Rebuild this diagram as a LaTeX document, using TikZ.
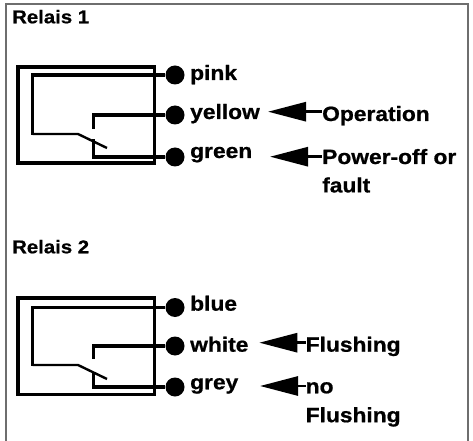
\documentclass[tikz,border=0pt]{standalone}
\usepackage{fontspec}
\setmainfont{Liberation Sans}[UprightFeatures={FakeStretch=1.1},BoldFeatures={FakeStretch=1.1,FakeBold=0.8}]
\usetikzlibrary{arrows.meta}
\begin{document}
\begin{tikzpicture}[x=1bp,y=-1bp,
  frame/.style={line width=1.3bp, draw={rgb,255:red,110;green,110;blue,110}},
  wire/.style={line width=3.4bp, line join=miter},
  sw/.style={line width=2.4bp},
  dot/.style={circle, fill=black, inner sep=0pt, minimum size=19bp},
  lab/.style={anchor=base west, inner sep=0pt, font=\fontsize{20.7bp}{24bp}\selectfont\bfseries},
  ttl/.style={anchor=base west, inner sep=0pt, font=\fontsize{18.5bp}{22bp}\selectfont\bfseries},
  arr/.style={line width=2.8bp, -{Triangle[length=38bp,width=19bp]}}]
\useasboundingbox (0,0) rectangle (473,441);
\draw[frame] (6,441) -- (6,4) -- (468,4) -- (468,441);

% ---------- Relais 1 ----------
\node[ttl] (t1) at (12,23.3) {Relais 1};
\draw[wire] (18,67) rectangle (154.5,163);
\node[dot] (d1a) at (175,75) {};
\node[dot] (d1b) at (175,115) {};
\node[dot] (d1c) at (175,157) {};
\coordinate (c1a) at (32.5,135);
\coordinate (c1b) at (93.3,129);
\coordinate (c1c) at (93.3,139.5);
\draw[wire] (d1a) -| (c1a);
\draw[wire] (d1b) -| (c1b);
\draw[wire] (d1c) -| (c1c);
\coordinate (s1a) at (32.5,134);
\coordinate (s1b) at (78,134);
\coordinate (s1c) at (107,148);
\draw[sw] (s1a) -- (s1b) -- (s1c);
\node[lab] (l1a) at (190,80) {pink};
\node[lab] (l1b) at (190,119) {yellow};
\node[lab] (l1c) at (190,158) {green};
\node[lab] (o1) at (322,121) {Operation};
\node[lab] (p1) at (322,164) {Power-off or};
\node[lab] (f1) at (322,192.4) {fault};
\coordinate (tip1) at (268,111.7);
\coordinate (tip2) at (270,156.7);
\draw[arr] (o1.west |- tip1) -- (tip1);
\draw[arr] (p1.west |- tip2) -- (tip2);

% ---------- Relais 2 ----------
\node[ttl] (t2) at (12,253.3) {Relais 2};
\draw[wire] (18,298) rectangle (154.5,394.5);
\node[dot] (d2a) at (175,307.5) {};
\node[dot] (d2b) at (175,346) {};
\node[dot] (d2c) at (175,387) {};
\coordinate (c2a) at (32.5,366);
\coordinate (c2b) at (93.3,359);
\coordinate (c2c) at (93.3,372);
\draw[wire] (d2a) -| (c2a);
\draw[wire] (d2b) -| (c2b);
\draw[wire] (d2c) -| (c2c);
\coordinate (s2a) at (32.5,365);
\coordinate (s2b) at (78,365);
\coordinate (s2c) at (107,379);
\draw[sw] (s2a) -- (s2b) -- (s2c);
\node[lab] (l2a) at (190,310.7) {blue};
\node[lab] (l2b) at (190,351.7) {white};
\node[lab] (l2c) at (190,389.3) {grey};
\node[lab] (o2) at (305.5,351.7) {Flushing};
\node[lab] (p2) at (305.5,393.3) {no};
\node[lab] (f2) at (305.5,422.2) {Flushing};
\coordinate (tip3) at (259.3,342.7);
\coordinate (tip4) at (260,386);
\draw[arr] (o2.west |- tip3) -- (tip3);
\draw[arr] (p2.west |- tip4) -- (tip4);
\end{tikzpicture}
\end{document}
